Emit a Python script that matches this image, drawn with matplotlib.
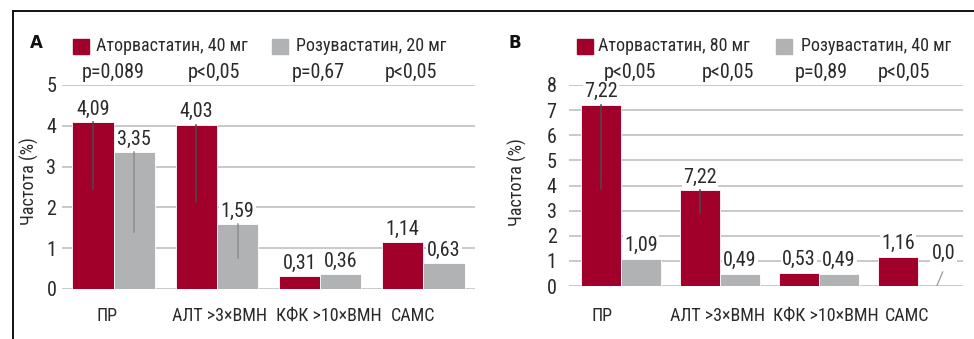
import matplotlib
matplotlib.use("Agg")
import matplotlib.pyplot as plt
from matplotlib import font_manager as fm
from matplotlib import transforms as mtrans
from matplotlib.lines import Line2D


def pick_narrow_font():
    """Return a FontProperties for a condensed sans face if one is installed."""
    prefs = ["Roboto Condensed", "Liberation Sans Narrow", "Open Sans Condensed",
             "Noto Sans Display", "DejaVu Sans"]
    cands = []
    for f in fm.fontManager.ttflist:
        st = str(f.stretch).lower()
        narrow = ("narrow" in f.name.lower() or "condensed" in f.name.lower()
                  or st in ("condensed", "semi-condensed", "extra-condensed")
                  or "condensed" in f.fname.lower() or "narrow" in f.fname.lower())
        if not narrow:
            continue
        if "bold" in f.fname.lower() or "italic" in f.fname.lower() \
                or "oblique" in f.fname.lower():
            continue
        if f.weight not in (400, "normal", "regular", 300, "light", "book"):
            continue
        rank = len(prefs)
        for k, p in enumerate(prefs):
            if p.lower() in f.name.lower():
                rank = k
                break
        cands.append((rank, f.fname))
    if cands:
        cands.sort()
        return fm.FontProperties(fname=cands[0][1]), True
    return fm.FontProperties(family=["Liberation Sans", "DejaVu Sans"]), False


FP, NARROW = pick_narrow_font()

categories = ["ПР", "АЛТ >3×ВМН", "КФК >10×ВМН", "САМС"]

# Panel A
a_series = ["Аторвастатин, 40 мг", "Розувастатин, 20 мг"]
a_atorva = [4.09, 4.03, 0.31, 1.14]
a_rosuva = [3.35, 1.59, 0.36, 0.63]
a_atorva_low = [2.45, 2.13, None, None]
a_rosuva_low = [1.40, 0.77, None, None]
a_atorva_text = ["4,09", "4,03", "0,31", "1,14"]
a_rosuva_text = ["3,35", "1,59", "0,36", "0,63"]
a_pvalues = ["p=0,089", "p<0,05", "p=0,67", "p<0,05"]
a_yticks = [0, 1, 2, 3, 4, 5]

# Panel B
b_series = ["Аторвастатин, 80 мг", "Розувастатин, 40 мг"]
b_atorva = [7.22, 3.82, 0.53, 1.16]
b_rosuva = [1.09, 0.49, 0.49, 0.0]
b_atorva_low = [3.86, 2.90, None, None]
b_rosuva_low = [None, None, None, None]
b_atorva_text = ["7,22", "7,22", "0,53", "1,16"]
b_rosuva_text = ["1,09", "0,49", "0,49", "0,0"]
b_pvalues = ["p<0,05", "p<0,05", "p=0,89", "p<0,05"]
b_yticks = [0, 1, 2, 3, 4, 5, 6, 7, 8]

RED = "#A1002B"
GRAY = "#B1B2B4"
GRID = "#C9C9C9"
TXT = "#2a2a2a"
FS_NUM = 14.5 if NARROW else 12
FS_WORD = 13 if NARROW else 11

W, H = 974, 339
fig = plt.figure(figsize=(W / 100, H / 100), dpi=100)


def fp(size):
    p = FP.copy()
    p.set_size(size)
    return p


def px_axes(x0, y0, x1, y1):
    return fig.add_axes([x0 / W, 1 - y1 / H, (x1 - x0) / W, (y1 - y0) / H])


BOX = dict(facecolor="white", edgecolor="none", pad=1.0)


def panel(ax, atorva, rosuva, alow, rlow, atext, rtext, yticks, xlim,
          cat_dx, ypad):
    n = len(categories)
    xs = list(range(n))
    bw = 0.4
    ax.set_xlim(*xlim)
    ax.set_ylim(yticks[0], yticks[-1])
    ax.set_yticks(yticks)
    ax.set_yticklabels([str(t) for t in yticks], fontproperties=fp(FS_NUM))
    ax.set_xticks(xs)
    ax.set_xticklabels([])
    ax.tick_params(axis='both', length=0, colors=TXT)
    ax.tick_params(axis='y', pad=ypad)
    ax.grid(axis='y', color=GRID, lw=1.4)
    ax.set_axisbelow(True)
    for s in ax.spines.values():
        s.set_visible(False)

    # category names under the groups
    tr = mtrans.blended_transform_factory(ax.transData, fig.transFigure)
    for i, c in enumerate(categories):
        ax.text(i + cat_dx[i], 1 - 316 / H, c, transform=tr, ha='center',
                va='center', fontproperties=fp(FS_WORD), color=TXT)

    ax.bar([x - bw / 2 for x in xs], atorva, bw, color=RED,
           edgecolor="white", lw=0.6, zorder=2)
    ax.bar([x + bw / 2 for x in xs], rosuva, bw, color=GRAY,
           edgecolor="white", lw=0.6, zorder=2)
    for i in xs:
        if alow[i] is not None:
            ax.plot([i - bw / 2] * 2, [atorva[i], alow[i]], color="#4a4a4a",
                    lw=1.1, zorder=3)
        if rlow[i] is not None:
            ax.plot([i + bw / 2] * 2, [rosuva[i], rlow[i]], color="#8e8e8e",
                    lw=1.1, zorder=3)
    for i in xs:
        ax.annotate(atext[i], (i - bw / 2, atorva[i]), xytext=(0, 2.5),
                    textcoords="offset points", ha='center', va='bottom',
                    fontproperties=fp(FS_NUM), color=TXT, bbox=BOX, zorder=4)
        if rosuva[i] > 0:
            ax.annotate(rtext[i], (i + bw / 2, rosuva[i]), xytext=(0, 2.5),
                        textcoords="offset points", ha='center', va='bottom',
                        fontproperties=fp(FS_NUM), color=TXT, bbox=BOX,
                        zorder=4)


def ylabel(x_px, y_px):
    fig.text(x_px / W, 1 - y_px / H, "Частота (%)", rotation=90,
             ha='center', va='center', fontproperties=fp(FS_WORD), color=TXT)


def legend_row(ax, letter, series, pvalues, letter_x, sq_x, txt_x, p_dx):
    fig.text(letter_x / W, 1 - 43 / H, letter, fontsize=12, fontweight='bold',
             family='DejaVu Sans', ha='left', va='center', color="#111111")
    for sx, tx, name, col in zip(sq_x, txt_x, series, [RED, GRAY]):
        fig.patches.append(plt.Rectangle((sx / W, 1 - 54 / H), 16 / W, 15 / H,
                                         transform=fig.transFigure,
                                         color=col, figure=fig))
        fig.text(tx / W, 1 - 46 / H, name, fontproperties=fp(FS_WORD),
                 ha='left', va='center', color=TXT)
    tr = mtrans.blended_transform_factory(ax.transData, fig.transFigure)
    for i, p in enumerate(pvalues):
        ax.text(i + p_dx[i], 1 - 72 / H, p, transform=tr, ha='center',
                va='center', fontproperties=fp(FS_NUM), color=TXT)


# Panel A axes
axA = px_axes(62, 85, 475, 289)
panel(axA, a_atorva, a_rosuva, a_atorva_low, a_rosuva_low,
      a_atorva_text, a_rosuva_text, a_yticks, (-0.5, 3.5),
      [-0.06, 0.03, 0.08, -0.10], 4)
legend_row(axA, "A", a_series, a_pvalues, 30, [73, 272], [96, 296],
           [0.0, -0.03, -0.02, -0.12])
ylabel(29, 181)

# Panel B axes
axB = px_axes(569, 85, 963, 286)
panel(axB, b_atorva, b_rosuva, b_atorva_low, b_rosuva_low,
      b_atorva_text, b_rosuva_text, b_yticks, (-0.525, 3.455),
      [-0.19, -0.02, 0.07, -0.11], 9)
legend_row(axB, "B", b_series, b_pvalues, 509, [577, 776], [598, 801],
           [0.09, 0.08, 0.02, -0.14])
ylabel(517, 182)

# zero-valued bar: label lifted with a leader line
zi = 3
axB.plot([zi + 0.19, zi + 0.25], [0.0, 0.56], color="#9a9a9a", lw=0.9,
         zorder=3)
axB.text(zi + 0.26, 0.92, b_rosuva_text[zi], ha='center', va='bottom',
         fontproperties=fp(FS_NUM), color=TXT, bbox=BOX, zorder=4)

# frame lines
fig.add_artist(Line2D([13 / W, 1.0], [1 - 11 / H] * 2, color="#111111",
                      lw=1.4, transform=fig.transFigure))
fig.add_artist(Line2D([13 / W] * 2, [0.0, 1 - 11 / H], color="#111111",
                      lw=1.4, transform=fig.transFigure))

fig.savefig("out.png", dpi=100)
